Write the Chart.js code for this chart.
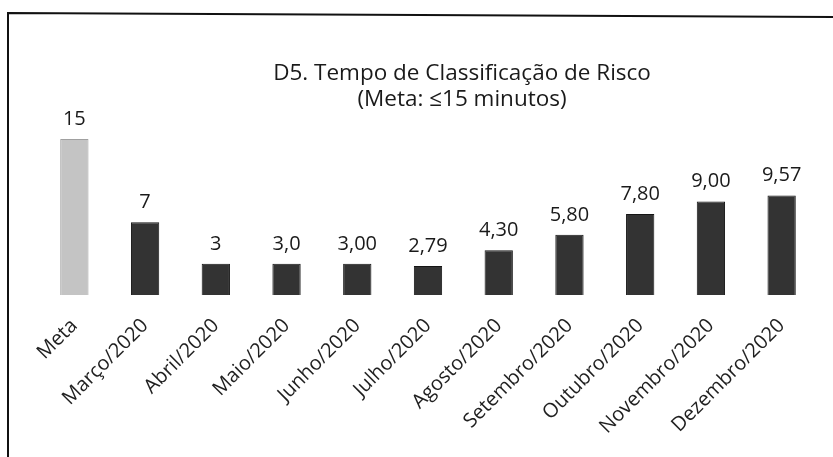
<!DOCTYPE html>
<html>
<head>
<meta charset="utf-8">
<script src="https://cdn.jsdelivr.net/npm/chart.js@4/dist/chart.umd.min.js"></script>
<style>
  html, body { margin: 0; padding: 0; background: #ffffff; }
  #wrap { width: 833px; height: 457px; position: relative; }
</style>
</head>
<body>
<div id="wrap"><canvas id="c" width="833" height="457"></canvas></div>
<script>
const categories = ["Meta", "Março/2020", "Abril/2020", "Maio/2020", "Junho/2020", "Julho/2020", "Agosto/2020", "Setembro/2020", "Outubro/2020", "Novembro/2020", "Dezembro/2020"];
const values = [15, 7, 3, 3.0, 3.00, 2.79, 4.30, 5.80, 7.80, 9.00, 9.57];
const valueLabels = ["15", "7", "3", "3,0", "3,00", "2,79", "4,30", "5,80", "7,80", "9,00", "9,57"];
const titleLines = ["D5. Tempo de Classificação de Risco", "(Meta: ≤15 minutos)"];

const barColors = categories.map((c, i) => i === 0 ? "#c4c4c4" : "#333333");
const borderColors = categories.map((c, i) => i === 0 ? "#a0a0a0" : "#151515");

const framePlugin = {
  id: "frame",
  beforeDraw(chart) {
    const ctx = chart.ctx;
    ctx.save();
    ctx.strokeStyle = "#111111";
    ctx.lineWidth = 2;
    ctx.beginPath();
    ctx.moveTo(8, 457);
    ctx.lineTo(8, 13);
    ctx.lineTo(833, 17);
    ctx.stroke();
    ctx.restore();
  }
};

// The reference title sits right of the plot centre; shift the title box.
const titleShiftPlugin = {
  id: "titleShift",
  afterLayout(chart) {
    const t = chart.titleBlock;
    if (t) { t.left += 34; t.right += 34; }
  }
};

const valueLabelPlugin = {
  id: "valueLabels",
  afterDatasetsDraw(chart) {
    const ctx = chart.ctx;
    const meta = chart.getDatasetMeta(0);
    ctx.save();
    ctx.font = "20px 'Open Sans'";
    ctx.fillStyle = "#1a1a1a";
    ctx.textAlign = "center";
    ctx.textBaseline = "alphabetic";
    meta.data.forEach((bar, i) => {
      ctx.fillText(valueLabels[i], bar.x, bar.y - 14);
    });
    ctx.restore();
  }
};

new Chart(document.getElementById("c"), {
  type: "bar",
  data: {
    labels: categories,
    datasets: [{
      data: values,
      backgroundColor: barColors,
      borderColor: borderColors,
      borderWidth: 1,
      categoryPercentage: 1.0,
      barPercentage: 0.4
    }]
  },
  options: {
    responsive: false,
    animation: false,
    layout: { padding: { left: 39, right: 16, top: 0, bottom: 0 } },
    plugins: {
      legend: { display: false },
      tooltip: { enabled: false },
      title: {
        display: true,
        text: titleLines,
        color: "#1a1a1a",
        font: { family: "'Open Sans'", size: 22.5, weight: "normal", lineHeight: 1.156 },
        padding: { top: 60.5, bottom: 26.5 }
      }
    },
    scales: {
      y: {
        display: false,
        min: 0,
        max: 15
      },
      x: {
        grid: { display: false },
        border: { display: false },
        ticks: {
          color: "#1f1f1f",
          font: { family: "'Open Sans'", size: 20 },
          minRotation: 45,
          maxRotation: 45,
          padding: 11,
          autoSkip: false
        },
        afterFit(scale) { scale.height = 162; }
      }
    }
  },
  plugins: [framePlugin, titleShiftPlugin, valueLabelPlugin]
});
</script>
</body>
</html>
